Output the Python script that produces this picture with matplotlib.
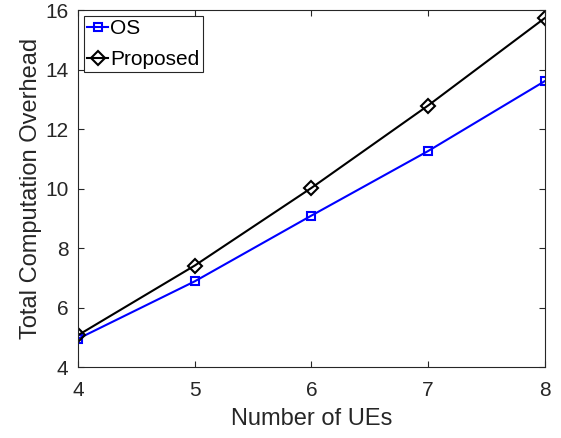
import numpy as np
import matplotlib.pyplot as plt

plt.rcParams['font.family'] = ['Liberation Sans', 'DejaVu Sans']

# data
num_ues = [4, 5, 6, 7, 8]
os_overhead = [4.95, 6.88, 9.09, 11.26, 13.61]
proposed_overhead = [5.07, 7.41, 10.02, 12.79, 15.73]

fig = plt.figure(figsize=(5.61, 4.38), dpi=100)
ax = fig.add_axes([0.139, 0.162, 0.832, 0.815])

ax.plot(num_ues, os_overhead, color='#0000ff', lw=1.5, marker='s',
        ms=6, mfc='none', mew=1.5, label='OS')
ax.plot(num_ues, proposed_overhead, color='k', lw=1.5, marker='D',
        ms=7, mfc='none', mew=1.5, label='Proposed')

ax.set_xlim(4, 8)
ax.set_ylim(4, 16)
ax.set_xticks([4, 5, 6, 7, 8])
ax.set_yticks([4, 6, 8, 10, 12, 14, 16])
ax.tick_params(direction='in', top=True, right=True, labelsize=15,
               length=4, color='#262626', labelcolor='#262626')
ax.tick_params(axis='x', pad=10)
ax.tick_params(axis='y', pad=7)
for s in ax.spines.values():
    s.set_color('#262626')
    s.set_linewidth(0.8)

ax.set_xlabel('Number of UEs', fontsize=17, color='#262626', labelpad=6)
ax.set_ylabel('Total Computation Overhead', fontsize=17, color='#262626',
              labelpad=2)

leg = ax.legend(loc='upper left', fontsize=15, handlelength=1.0,
                handletextpad=0.1, borderpad=0.15, labelspacing=0.55,
                borderaxespad=0.3, fancybox=False, framealpha=1)
leg.get_frame().set_edgecolor('#262626')
leg.get_frame().set_linewidth(0.8)

fig.savefig('out.png', dpi=100)
